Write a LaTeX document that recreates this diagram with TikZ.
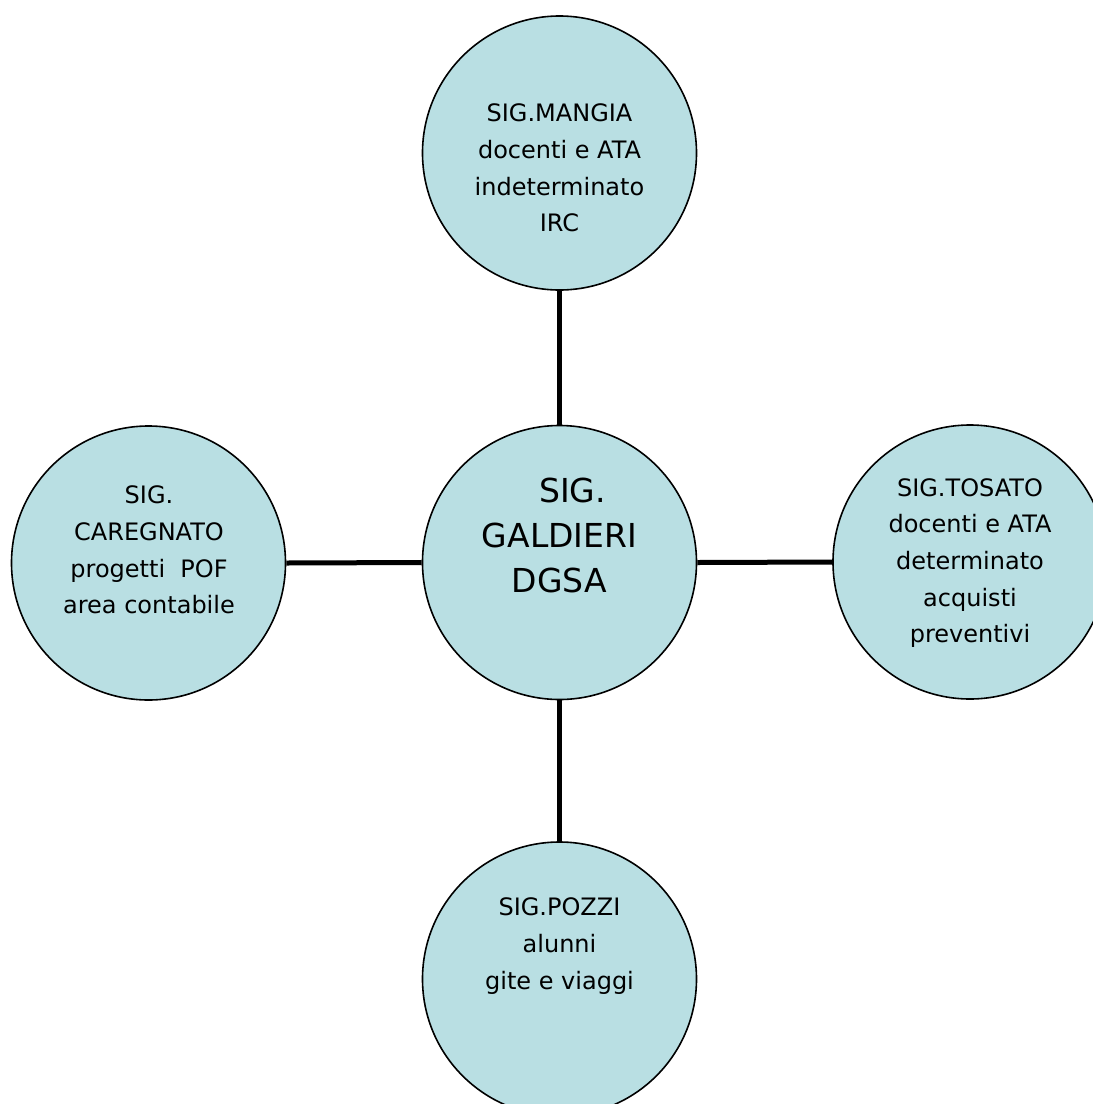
\documentclass[tikz,border=0pt]{standalone}
\usepackage{fontspec}
\setmainfont{DejaVu Sans}
\definecolor{bubble}{RGB}{185,223,227}
\begin{document}
\begin{tikzpicture}[x=1pt,y=-1pt,
  circ/.style={circle,draw=black,line width=1.6pt,fill=bubble,minimum size=274pt,inner sep=0pt},
  txt/.style={align=center,inner sep=0pt,font=\fontsize{24}{36.7}\selectfont},
  bigtxt/.style={align=center,inner sep=0pt,font=\fontsize{33}{45}\selectfont},
  link/.style={line width=5pt}]
\useasboundingbox (0,0) rectangle (1093,1104);
\clip (0,0) rectangle (1093,1104);
\node[circ] (top) at (559.5,153) {};
\node[circ] (mid) at (559.5,562.5) {};
\node[circ] (left) at (148.5,563) {};
\node[circ] (right) at (970,562) {};
\node[circ] (bot) at (559.5,979) {};
\draw[link] (top.south) -- (mid.north);
\draw[link] (left.east) -- (mid.west);
\draw[link] (mid.east) -- (right.west);
\draw[link] (mid.south) -- (bot.north);
\node[txt] (toptxt) at (559.5,168) {SIG.MANGIA\\docenti e ATA\\indeterminato\\IRC};
\node[bigtxt] (midtxt) at (559.5,535) {\hspace*{26pt}SIG.\\GALDIERI\\DGSA};
\node[txt] (lefttxt) at (149,550) {SIG.\\CAREGNATO\\progetti\ \ POF\\area contabile};
\node[txt] (righttxt) at (970,563) {SIG.TOSATO\\docenti e ATA\\determinato\\acquisti\\preventivi};
\node[txt] (bottxt) at (559.5,946) {SIG.POZZI\\alunni\\gite e viaggi};
\end{tikzpicture}
\end{document}
